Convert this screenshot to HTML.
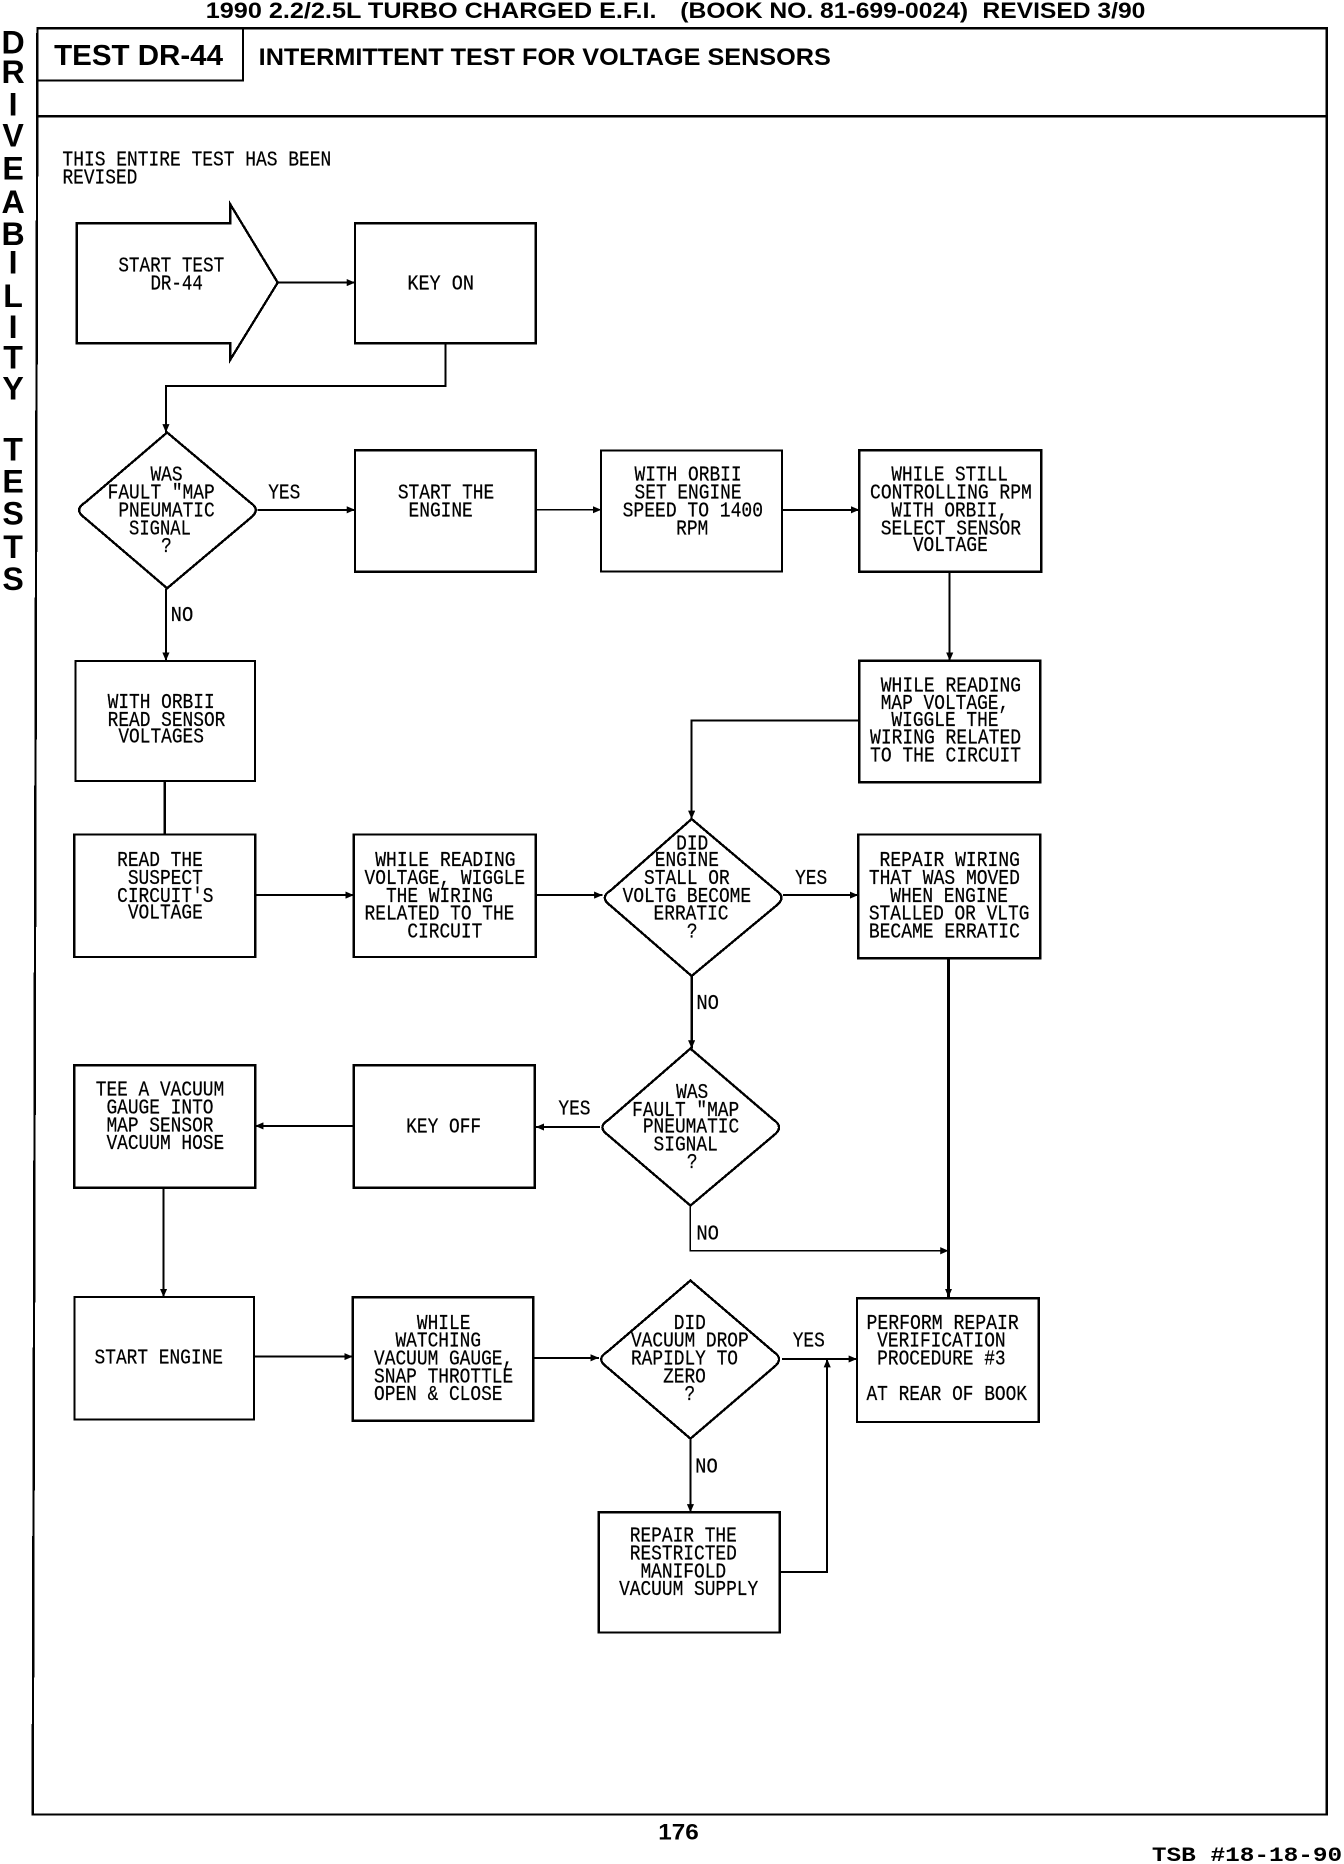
<!DOCTYPE html>
<html><head><meta charset="utf-8"><title>TEST DR-44</title>
<style>
html,body{margin:0;padding:0;background:#fff}
svg{display:block}
.m{font-family:"Liberation Mono",monospace;font-size:18px;fill:#000;stroke:#000;stroke-width:.2}
.b{font-family:"Liberation Sans",sans-serif;font-weight:bold;fill:#000}
.s{font-family:"Liberation Sans",sans-serif;font-weight:bold;font-size:27px;fill:#000;text-anchor:middle}
.l{fill:none;stroke:#000;stroke-width:2;shape-rendering:crispEdges}
.t{fill:none;stroke:#000;stroke-width:1.7;shape-rendering:crispEdges}
.c{fill:none;stroke:#000;stroke-width:1.7;shape-rendering:crispEdges}
</style></head><body>
<svg width="1344" height="1864" viewBox="0 0 1130 1567.2" preserveAspectRatio="none" xmlns="http://www.w3.org/2000/svg">
<defs><marker id="a" markerWidth="8" markerHeight="6" refX="7" refY="3" orient="auto" markerUnits="userSpaceOnUse"><path d="M0 0L7 3L0 6Z" fill="#000"/></marker></defs>
<rect width="1130" height="1567.2" fill="#fff"/>

<text class="b" x="173" y="15" font-size="19" textLength="379" lengthAdjust="spacingAndGlyphs">1990 2.2/2.5L TURBO CHARGED E.F.I.</text>
<text class="b" x="572" y="15" font-size="19" textLength="242" lengthAdjust="spacingAndGlyphs">(BOOK NO. 81-699-0024)</text>
<text class="b" x="826" y="15" font-size="19" textLength="137" lengthAdjust="spacingAndGlyphs">REVISED 3/90</text>
<g transform="translate(0,-1)">
<text class="s" x="11" y="46">D</text><text class="s" x="11" y="71">R</text><text class="s" x="11" y="98">I</text><text class="s" x="11" y="124">V</text><text class="s" x="11" y="152">E</text><text class="s" x="11" y="180">A</text><text class="s" x="11" y="207">B</text><text class="s" x="11" y="231">I</text><text class="s" x="11" y="259">L</text><text class="s" x="11" y="285">I</text><text class="s" x="11" y="311">T</text><text class="s" x="11" y="337">Y</text>
<text class="s" x="11" y="388">T</text><text class="s" x="11" y="415">E</text><text class="s" x="11" y="442">S</text><text class="s" x="11" y="470">T</text><text class="s" x="11" y="497">S</text>
</g>

<g transform="translate(-0.5,-0.4)">
<path class="l" d="M32 24H1116V1526H28Z"/>
<path class="l" d="M32 98H1116"/>
<path class="t" d="M32 68H205V24"/>
<text class="b" x="46" y="55" font-size="24" textLength="142" lengthAdjust="spacingAndGlyphs">TEST DR-44</text>
<text class="b" x="218" y="55" font-size="20" textLength="481" lengthAdjust="spacingAndGlyphs">INTERMITTENT TEST FOR VOLTAGE SENSORS</text>
<text class="b" x="554" y="1547" font-size="19" textLength="34" lengthAdjust="spacingAndGlyphs">176</text>
<text x="969" y="1565" font-family="'Liberation Mono',monospace" font-weight="bold" font-size="17" textLength="160" lengthAdjust="spacingAndGlyphs">TSB #18-18-90</text>

<!-- shapes -->
<path class="l" d="M65 188H194V172L234 238L194 303V289H65Z"/>
<rect class="l" x="299" y="188" width="152" height="101"/>
<path class="l" d="M141 364L211 423Q220 429 211 436L141 495L72 436Q62 429 72 423Z"/>
<rect class="l" x="299" y="379" width="152" height="102"/>
<rect class="t" x="506" y="379" width="152" height="102"/>
<rect class="l" x="723" y="379" width="153" height="102"/>
<rect class="l" x="723" y="556" width="152" height="102"/>
<rect class="t" x="64" y="556" width="151" height="101"/>
<rect class="l" x="63" y="702" width="152" height="103"/>
<rect class="l" x="298" y="702" width="153" height="103"/>
<path class="l" d="M582 689L653 749Q662 755 653 762L582 821L514 762Q504 755 514 749Z"/>
<rect class="l" x="722" y="702" width="153" height="104"/>
<path class="l" d="M581 882L651 942Q660 948 651 955L581 1014L512 955Q502 948 512 942Z"/>
<rect class="l" x="298" y="896" width="152" height="103"/>
<rect class="l" x="63" y="896" width="152" height="103"/>
<rect class="t" x="63" y="1091" width="151" height="103"/>
<rect class="l" x="297" y="1091" width="152" height="104"/>
<path class="l" d="M581 1077L651 1137Q660 1143 651 1150L581 1210L511 1150Q501 1143 511 1137Z"/>
<rect class="l" x="721" y="1092" width="153" height="104"/>
<rect class="l" x="504" y="1272" width="152" height="101"/>

<!-- connectors -->
<g>
<path class="c" d="M234 238H299" marker-end="url(#a)"/>
<path class="c" d="M375 289V325H140V364" marker-end="url(#a)"/>
<path class="c" d="M217 429H299" marker-end="url(#a)"/>
<path class="c" style="stroke-width:1" d="M451 429H506" marker-end="url(#a)"/>
<path class="c" d="M658 429H723" marker-end="url(#a)"/>
<path class="c" d="M799 481V556" marker-end="url(#a)"/>
<path class="c" d="M723 606H582V689" marker-end="url(#a)"/>
<path class="c" d="M140 495V556" marker-end="url(#a)"/>
<path class="c" style="stroke-width:2.2" d="M139 657V702"/>
<path class="c" d="M215 753H298" marker-end="url(#a)"/>
<path class="c" d="M451 753H507" marker-end="url(#a)"/>
<path class="c" d="M659 753H722" marker-end="url(#a)"/>
<path class="c" style="stroke-width:2.2" d="M798 806V1091" marker-end="url(#a)"/>
<path class="c" style="stroke-width:2.2" d="M582 821V882" marker-end="url(#a)"/>
<path class="c" d="M505 948H451" marker-end="url(#a)"/>
<path class="c" d="M298 947H215" marker-end="url(#a)"/>
<path class="c" d="M138 999V1091" marker-end="url(#a)"/>
<path class="c" d="M214 1141H297" marker-end="url(#a)"/>
<path class="c" d="M449 1142H504" marker-end="url(#a)"/>
<path class="c" d="M658 1143H721" marker-end="url(#a)"/>
<path class="c" style="stroke-width:1.2" d="M581 1014V1052H798" marker-end="url(#a)"/>
<path class="c" d="M581 1210V1272" marker-end="url(#a)"/>
<path class="c" d="M656 1322H696V1143" marker-end="url(#a)"/>
</g>

<!-- labels -->
<g class="m" transform="translate(0,-0.4)">
<text x="53" y="140" textLength="226" lengthAdjust="spacingAndGlyphs">THIS ENTIRE TEST HAS BEEN</text>
<text x="53" y="155" textLength="63" lengthAdjust="spacingAndGlyphs">REVISED</text>
<text x="100" y="229" textLength="89" lengthAdjust="spacingAndGlyphs">START TEST</text>
<text x="127" y="244" textLength="44" lengthAdjust="spacingAndGlyphs">DR-44</text>
<text x="343" y="244" textLength="56" lengthAdjust="spacingAndGlyphs">KEY ON</text>
<text x="127" y="405" textLength="27" lengthAdjust="spacingAndGlyphs">WAS</text>
<text x="91" y="420" textLength="90" lengthAdjust="spacingAndGlyphs">FAULT "MAP</text>
<text x="100" y="435" textLength="81" lengthAdjust="spacingAndGlyphs">PNEUMATIC</text>
<text x="109" y="450" textLength="52" lengthAdjust="spacingAndGlyphs">SIGNAL</text>
<text x="136" y="465" textLength="9" lengthAdjust="spacingAndGlyphs">?</text>
<text x="226" y="420" textLength="27" lengthAdjust="spacingAndGlyphs">YES</text>
<text x="144" y="523" textLength="19" lengthAdjust="spacingAndGlyphs">NO</text>
<text x="335" y="420" textLength="81" lengthAdjust="spacingAndGlyphs">START THE</text>
<text x="344" y="435" textLength="54" lengthAdjust="spacingAndGlyphs">ENGINE</text>
<text x="534" y="405" textLength="90" lengthAdjust="spacingAndGlyphs">WITH ORBII</text>
<text x="534" y="420" textLength="90" lengthAdjust="spacingAndGlyphs">SET ENGINE</text>
<text x="524" y="435" textLength="118" lengthAdjust="spacingAndGlyphs">SPEED TO 1400</text>
<text x="569" y="450" textLength="27" lengthAdjust="spacingAndGlyphs">RPM</text>
<text x="750" y="405" textLength="98" lengthAdjust="spacingAndGlyphs">WHILE STILL</text>
<text x="732" y="420" textLength="136" lengthAdjust="spacingAndGlyphs">CONTROLLING RPM</text>
<text x="750" y="435" textLength="98" lengthAdjust="spacingAndGlyphs">WITH ORBII,</text>
<text x="741" y="450" textLength="118" lengthAdjust="spacingAndGlyphs">SELECT SENSOR</text>
<text x="768" y="464" textLength="63" lengthAdjust="spacingAndGlyphs">VOLTAGE</text>
<text x="741" y="582" textLength="118" lengthAdjust="spacingAndGlyphs">WHILE READING</text>
<text x="741" y="597" textLength="108" lengthAdjust="spacingAndGlyphs">MAP VOLTAGE,</text>
<text x="750" y="611" textLength="90" lengthAdjust="spacingAndGlyphs">WIGGLE THE</text>
<text x="732" y="626" textLength="127" lengthAdjust="spacingAndGlyphs">WIRING RELATED</text>
<text x="732" y="641" textLength="127" lengthAdjust="spacingAndGlyphs">TO THE CIRCUIT</text>
<text x="91" y="596" textLength="90" lengthAdjust="spacingAndGlyphs">WITH ORBII</text>
<text x="91" y="611" textLength="99" lengthAdjust="spacingAndGlyphs">READ SENSOR</text>
<text x="100" y="625" textLength="72" lengthAdjust="spacingAndGlyphs">VOLTAGES</text>
<text x="99" y="729" textLength="72" lengthAdjust="spacingAndGlyphs">READ THE</text>
<text x="108" y="744" textLength="63" lengthAdjust="spacingAndGlyphs">SUSPECT</text>
<text x="99" y="759" textLength="81" lengthAdjust="spacingAndGlyphs">CIRCUIT'S</text>
<text x="108" y="773" textLength="63" lengthAdjust="spacingAndGlyphs">VOLTAGE</text>
<text x="316" y="729" textLength="118" lengthAdjust="spacingAndGlyphs">WHILE READING</text>
<text x="307" y="744" textLength="135" lengthAdjust="spacingAndGlyphs">VOLTAGE, WIGGLE</text>
<text x="325" y="759" textLength="90" lengthAdjust="spacingAndGlyphs">THE WIRING</text>
<text x="307" y="774" textLength="126" lengthAdjust="spacingAndGlyphs">RELATED TO THE</text>
<text x="343" y="789" textLength="63" lengthAdjust="spacingAndGlyphs">CIRCUIT</text>
<text x="569" y="715" textLength="27" lengthAdjust="spacingAndGlyphs">DID</text>
<text x="551" y="729" textLength="54" lengthAdjust="spacingAndGlyphs">ENGINE</text>
<text x="542" y="744" textLength="72" lengthAdjust="spacingAndGlyphs">STALL OR</text>
<text x="524" y="759" textLength="108" lengthAdjust="spacingAndGlyphs">VOLTG BECOME</text>
<text x="550" y="774" textLength="63" lengthAdjust="spacingAndGlyphs">ERRATIC</text>
<text x="578" y="789" textLength="9" lengthAdjust="spacingAndGlyphs">?</text>
<text x="669" y="744" textLength="27" lengthAdjust="spacingAndGlyphs">YES</text>
<text x="740" y="729" textLength="118" lengthAdjust="spacingAndGlyphs">REPAIR WIRING</text>
<text x="731" y="744" textLength="127" lengthAdjust="spacingAndGlyphs">THAT WAS MOVED</text>
<text x="749" y="759" textLength="99" lengthAdjust="spacingAndGlyphs">WHEN ENGINE</text>
<text x="731" y="774" textLength="135" lengthAdjust="spacingAndGlyphs">STALLED OR VLTG</text>
<text x="731" y="789" textLength="127" lengthAdjust="spacingAndGlyphs">BECAME ERRATIC</text>
<text x="586" y="849" textLength="19" lengthAdjust="spacingAndGlyphs">NO</text>
<text x="569" y="924" textLength="27" lengthAdjust="spacingAndGlyphs">WAS</text>
<text x="532" y="939" textLength="90" lengthAdjust="spacingAndGlyphs">FAULT "MAP</text>
<text x="541" y="953" textLength="81" lengthAdjust="spacingAndGlyphs">PNEUMATIC</text>
<text x="550" y="968" textLength="54" lengthAdjust="spacingAndGlyphs">SIGNAL</text>
<text x="578" y="983" textLength="9" lengthAdjust="spacingAndGlyphs">?</text>
<text x="470" y="938" textLength="27" lengthAdjust="spacingAndGlyphs">YES</text>
<text x="342" y="953" textLength="63" lengthAdjust="spacingAndGlyphs">KEY OFF</text>
<text x="81" y="922" textLength="108" lengthAdjust="spacingAndGlyphs">TEE A VACUUM</text>
<text x="90" y="937" textLength="90" lengthAdjust="spacingAndGlyphs">GAUGE INTO</text>
<text x="90" y="952" textLength="90" lengthAdjust="spacingAndGlyphs">MAP SENSOR</text>
<text x="90" y="967" textLength="99" lengthAdjust="spacingAndGlyphs">VACUUM HOSE</text>
<text x="586" y="1043" textLength="19" lengthAdjust="spacingAndGlyphs">NO</text>
<text x="80" y="1147" textLength="108" lengthAdjust="spacingAndGlyphs">START ENGINE</text>
<text x="351" y="1118" textLength="45" lengthAdjust="spacingAndGlyphs">WHILE</text>
<text x="333" y="1133" textLength="72" lengthAdjust="spacingAndGlyphs">WATCHING</text>
<text x="315" y="1148" textLength="117" lengthAdjust="spacingAndGlyphs">VACUUM GAUGE,</text>
<text x="315" y="1163" textLength="117" lengthAdjust="spacingAndGlyphs">SNAP THROTTLE</text>
<text x="315" y="1178" textLength="108" lengthAdjust="spacingAndGlyphs">OPEN &amp; CLOSE</text>
<text x="567" y="1118" textLength="27" lengthAdjust="spacingAndGlyphs">DID</text>
<text x="531" y="1133" textLength="99" lengthAdjust="spacingAndGlyphs">VACUUM DROP</text>
<text x="531" y="1148" textLength="90" lengthAdjust="spacingAndGlyphs">RAPIDLY TO</text>
<text x="558" y="1163" textLength="36" lengthAdjust="spacingAndGlyphs">ZERO</text>
<text x="576" y="1178" textLength="9" lengthAdjust="spacingAndGlyphs">?</text>
<text x="667" y="1133" textLength="27" lengthAdjust="spacingAndGlyphs">YES</text>
<text x="729" y="1118" textLength="128" lengthAdjust="spacingAndGlyphs">PERFORM REPAIR</text>
<text x="738" y="1133" textLength="108" lengthAdjust="spacingAndGlyphs">VERIFICATION</text>
<text x="738" y="1148" textLength="108" lengthAdjust="spacingAndGlyphs">PROCEDURE #3</text>
<text x="729" y="1178" textLength="135" lengthAdjust="spacingAndGlyphs">AT REAR OF BOOK</text>
<text x="585" y="1239" textLength="19" lengthAdjust="spacingAndGlyphs">NO</text>
<text x="530" y="1297" textLength="90" lengthAdjust="spacingAndGlyphs">REPAIR THE</text>
<text x="530" y="1312" textLength="90" lengthAdjust="spacingAndGlyphs">RESTRICTED</text>
<text x="539" y="1327" textLength="72" lengthAdjust="spacingAndGlyphs">MANIFOLD</text>
<text x="521" y="1342" textLength="117" lengthAdjust="spacingAndGlyphs">VACUUM SUPPLY</text>
</g>
</g>
</svg>
</body></html>
